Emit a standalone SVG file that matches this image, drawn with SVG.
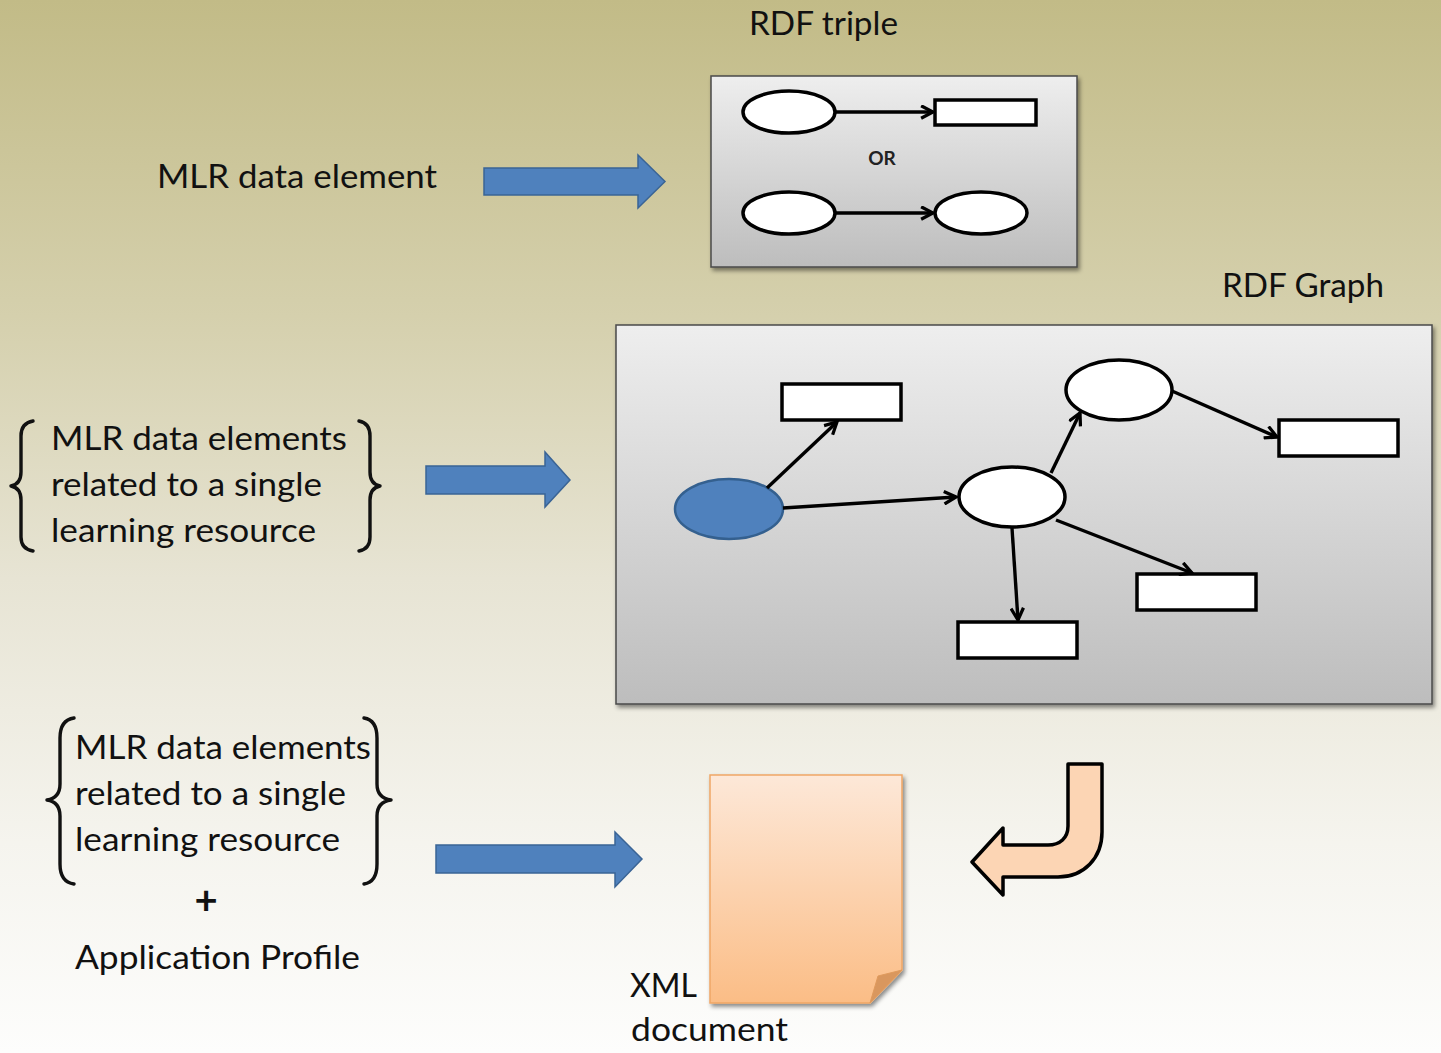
<svg xmlns="http://www.w3.org/2000/svg" width="1441" height="1053" viewBox="0 0 1441 1053">
<defs>
<linearGradient id="bg" x1="0" y1="0" x2="0" y2="1">
<stop offset="0" stop-color="#c2bb87"/>
<stop offset="0.3" stop-color="#d5d0ad"/>
<stop offset="0.55" stop-color="#e7e4d4"/>
<stop offset="0.8" stop-color="#f5f4ee"/>
<stop offset="1" stop-color="#fdfdfc"/>
</linearGradient>
<linearGradient id="panel" x1="0" y1="0" x2="0" y2="1">
<stop offset="0" stop-color="#eeeeee"/>
<stop offset="1" stop-color="#bdbdbd"/>
</linearGradient>
<linearGradient id="page" x1="0" y1="0" x2="0" y2="1">
<stop offset="0" stop-color="#fde8d8"/>
<stop offset="1" stop-color="#fbbd86"/>
</linearGradient>
<filter id="shadow" x="-5%" y="-5%" width="112%" height="115%">
<feDropShadow dx="2" dy="3" stdDeviation="2" flood-color="#000" flood-opacity="0.45"/>
</filter>
<marker id="open" viewBox="0 0 12 12" refX="10.5" refY="6" markerWidth="15" markerHeight="15" markerUnits="userSpaceOnUse" orient="auto">
<path d="M1,1 L10.5,6 L1,11" fill="none" stroke="#000" stroke-width="2.6" stroke-linejoin="miter"/>
</marker>
</defs>
<style>
.t{font-family:Lato,"Open Sans","Liberation Sans",sans-serif;font-size:32px;fill:#111;}
.panel{fill:url(#panel);stroke:#4a4a4a;stroke-width:1.5;filter:url(#shadow);}
.node{fill:#fff;stroke:#000;stroke-width:3.5;}
.edge{fill:none;stroke:#000;stroke-width:3.4;marker-end:url(#open);}
.blue{fill:#4f81bd;stroke:#3a6495;stroke-width:1.5;}
.brace{fill:none;stroke:#111;stroke-width:3.4;stroke-linecap:round;stroke-linejoin:round;}
</style>
<rect x="0" y="0" width="1441" height="1053" fill="url(#bg)"/>

<g id="rdf-triple">
<text class="t" x="749" y="35" textLength="149" lengthAdjust="spacingAndGlyphs">RDF triple</text>
<rect class="panel" x="711" y="76" width="366" height="191"/>
<ellipse class="node" cx="789" cy="112" rx="46" ry="21"/>
<rect class="node" x="935" y="100" width="101" height="25"/>
<text x="882" y="165" text-anchor="middle" font-family="Lato,'Liberation Sans',sans-serif" font-weight="bold" font-size="19" fill="#222">OR</text>
<ellipse class="node" cx="789" cy="213" rx="46" ry="21"/>
<ellipse class="node" cx="981" cy="213" rx="46" ry="21"/>
</g>

<g id="mlr-element">
<text class="t" x="157" y="188" textLength="280" lengthAdjust="spacingAndGlyphs">MLR data element</text>
</g>

<g id="rdf-graph">
<text class="t" x="1222" y="297" textLength="162" lengthAdjust="spacingAndGlyphs">RDF Graph</text>
<rect class="panel" x="616" y="325" width="816" height="379"/>
<ellipse cx="729" cy="509" rx="54" ry="30" fill="#4f81bd" stroke="#34608f" stroke-width="2.5"/>
<rect class="node" x="782" y="384" width="119" height="36" stroke-width="3"/>
<ellipse class="node" cx="1119" cy="390" rx="53" ry="30" stroke-width="3"/>
<rect class="node" x="1279" y="420" width="119" height="36" stroke-width="3"/>
<ellipse class="node" cx="1012" cy="497" rx="53" ry="30" stroke-width="3"/>
<rect class="node" x="1137" y="574" width="119" height="36" stroke-width="3"/>
<rect class="node" x="958" y="622" width="119" height="36" stroke-width="3"/>
</g>

<g id="mlr-elements-1">
<path class="brace" d="M33,421 Q21,423 21,436 L21,472 Q21,484 11,486 Q21,488 21,500 L21,537 Q21,549 33,551"/>
<text class="t" x="51" y="450" textLength="296" lengthAdjust="spacingAndGlyphs">MLR data elements</text>
<text class="t" x="51" y="496" textLength="271" lengthAdjust="spacingAndGlyphs">related to a single</text>
<text class="t" x="51" y="542" textLength="265" lengthAdjust="spacingAndGlyphs">learning resource</text>
<path class="brace" d="M359,421 Q370,423 370,436 L370,472 Q370,484 380,486 Q370,488 370,500 L370,537 Q370,549 359,551"/>
</g>

<g id="mlr-elements-2">
<path class="brace" d="M74,718 Q60,720 60,738 L60,784 Q60,798 47,800 Q60,802 60,816 L60,864 Q60,882 74,884"/>
<text class="t" x="75" y="759" textLength="296" lengthAdjust="spacingAndGlyphs">MLR data elements</text>
<text class="t" x="75" y="805" textLength="271" lengthAdjust="spacingAndGlyphs">related to a single</text>
<text class="t" x="75" y="851" textLength="265" lengthAdjust="spacingAndGlyphs">learning resource</text>
<path class="brace" d="M364,718 Q377,720 377,738 L377,784 Q377,798 391,800 Q377,802 377,816 L377,864 Q377,882 364,884"/>
<text x="206" y="914" text-anchor="middle" font-family="Lato,'Liberation Sans',sans-serif" font-weight="bold" font-size="40" fill="#111">+</text>
<text class="t" x="75" y="969" textLength="285" lengthAdjust="spacingAndGlyphs">Application Profile</text>
</g>

<g id="xml-document">
<path d="M710,775 L902,775 L902,970 L870,1003 L710,1003 Z" fill="url(#page)" stroke="#f0a766" stroke-width="1.5" filter="url(#shadow)"/>
<path d="M902,970 L878,976 L870,1003 Z" fill="#d9975e" stroke="#e09a5c" stroke-width="1"/>
<text class="t" x="630" y="997" textLength="67" lengthAdjust="spacingAndGlyphs">XML</text>
<text class="t" x="631" y="1041" textLength="157" lengthAdjust="spacingAndGlyphs">document</text>
</g>

<g id="connectors">
<line class="edge" x1="836" y1="112" x2="933" y2="112"/>
<line class="edge" x1="836" y1="213" x2="933" y2="213"/>
<line class="edge" x1="767" y1="488" x2="837" y2="422"/>
<line class="edge" x1="783" y1="508" x2="956" y2="497"/>
<line class="edge" x1="1051" y1="473" x2="1080" y2="413"/>
<line class="edge" x1="1172" y1="391" x2="1277" y2="437"/>
<line class="edge" x1="1056" y1="520" x2="1192" y2="573"/>
<line class="edge" x1="1012" y1="528" x2="1018" y2="620"/>
<path class="blue" d="M484,168 L638,168 L638,155 L665,181.5 L638,208 L638,195 L484,195 Z"/>
<path class="blue" d="M426,466 L545,466 L545,452 L570,480 L545,507 L545,494 L426,494 Z"/>
<path class="blue" d="M436,845 L615,845 L615,832 L642,859 L615,887 L615,873 L436,873 Z"/>
<path d="M1068,764 L1102,764 L1102,832 C1102,858 1084,877 1058,877 L1003,877 L1003,895 L972,862 L1003,828 L1003,845 L1048,845 C1060,845 1068,838 1068,826 Z" fill="#fcd5b4" stroke="#000" stroke-width="3.5" stroke-linejoin="round"/>
</g>
</svg>
